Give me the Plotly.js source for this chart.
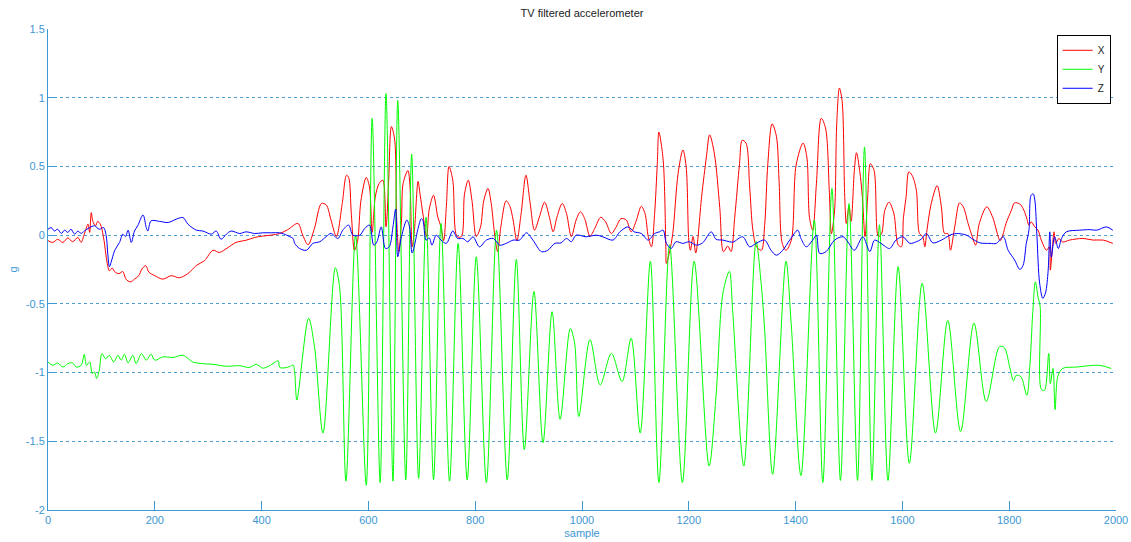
<!DOCTYPE html>
<html>
<head>
<meta charset="utf-8">
<script src="https://cdn.plot.ly/plotly-3.0.1.min.js"></script>
<style>
  html, body { margin: 0; padding: 0; background: #ffffff; }
  #chart { width: 1131px; height: 542px; }
</style>
</head>
<body>
<div id="chart"></div>
<script>
// Accelerometer axes after total-variation filtering (units: g)
const sampleX = [0,9,18,28,37,46,56,62,68,75,78,81,84,89,93,98,101,106,109,115,120,126,133,140,146,154,162,170,176,183,189,200,215,231,246,262,278,293,309,321,337,352,371,387,402,418,434,449,468,477,487,499,512,521,530,540,551,559,563,568,574,580,586,596,602,607,613,620,627,633,638,643,649,653,657,662,665,674,678,682,686,693,697,702,709,714,722,730,736,741,746,751,758,766,774,780,787,794,802,810,816,824,830,836,842,848,858,865,871,878,886,895,903,911,920,930,939,946,953,963,971,980,989,997,1005,1015,1024,1035,1044,1055,1064,1073,1083,1092,1102,1111,1118,1124,1130,1136,1141,1144,1152,1157,1158,1164,1170,1180,1189,1195,1200,1203,1208,1213,1224,1233,1239,1248,1258,1265,1273,1279,1286,1295,1300,1307,1314,1320,1327,1336,1342,1348,1356,1364,1369,1375,1382,1392,1401,1414,1421,1426,1432,1439,1448,1456,1463,1467,1473,1477,1482,1487,1492,1495,1500,1504,1510,1514,1520,1525,1530,1535,1540,1547,1555,1561,1567,1575,1584,1592,1598,1602,1607,1612,1618,1626,1632,1638,1642,1646,1654,1665,1673,1679,1685,1690,1698,1707,1714,1723,1731,1737,1744,1758,1769,1783,1788,1794,1804,1810,1820,1826,1832,1837,1841,1848,1854,1860,1870,1875,1877,1881,1884,1887,1893,1900,1913,1938,1957,1976,1994];
const accX = [-0.04,-0.053,-0.03,-0.053,-0.02,-0.048,-0.017,-0.053,0.007,0.08,0.02,0.164,0.10,0.068,0.10,0.08,0.043,-0.065,-0.16,-0.26,-0.24,-0.27,-0.28,-0.265,-0.32,-0.34,-0.32,-0.295,-0.246,-0.222,-0.27,-0.295,-0.32,-0.295,-0.31,-0.28,-0.22,-0.186,-0.11,-0.126,-0.09,-0.053,-0.037,-0.017,-0.007,0.0,0.012,0.04,0.085,0.0,-0.07,0.05,0.23,0.22,0.11,-0.01,0.23,0.436,0.42,0.157,-0.11,-0.036,0.25,0.42,0.35,0.02,0.28,0.375,0.40,0.06,0.40,0.79,0.70,0.11,-0.12,0.11,0.375,0.47,0.35,-0.085,0.024,0.39,0.29,0.157,-0.01,0.19,0.29,0.13,0.06,-0.04,0.21,0.50,0.40,-0.01,-0.01,0.30,0.40,0.25,-0.01,0.06,0.25,0.34,0.23,0.02,-0.12,0.06,0.25,0.21,0.11,-0.04,0.157,0.436,0.23,0.036,0.13,0.24,0.13,0.024,0.13,0.23,0.157,-0.01,0.11,0.17,0.12,-0.007,0.05,0.13,0.097,0.012,0.06,0.12,0.11,0.024,0.11,0.21,0.157,-0.01,-0.085,0.157,0.52,0.75,0.545,-0.085,-0.206,-0.12,0.012,0.45,0.62,0.50,-0.036,-0.11,-0.01,-0.13,0.28,0.57,0.73,0.59,0.20,-0.12,-0.08,-0.12,0.13,0.52,0.69,0.67,0.35,0.036,-0.085,-0.11,0.07,0.52,0.81,0.72,0.40,-0.06,-0.11,-0.036,0.51,0.67,0.57,0.13,0.036,0.376,0.85,0.78,0.33,0.01,0.18,0.81,1.07,0.98,0.28,0.085,0.21,0.10,0.47,0.60,0.47,0.28,-0.01,0.28,0.52,0.47,-0.01,0.01,0.18,0.24,0.157,-0.07,-0.085,0.13,0.28,0.46,0.436,0.33,0.012,-0.01,-0.085,0.036,0.23,0.36,0.206,0.012,0.012,-0.11,0.06,0.235,0.206,0.085,-0.012,-0.073,0.085,0.206,0.13,-0.04,0.0,0.085,0.18,0.235,0.226,0.194,0.133,0.073,0.097,0.06,0.036,-0.036,-0.11,-0.085,-0.255,-0.085,0.024,-0.06,-0.024,-0.05,-0.036,-0.024,-0.036,-0.036,-0.06];

const sampleY = [0,9,18,28,37,46,53,62,68,72,78,83,87,91,96,101,108,115,123,131,137,143,150,159,165,175,184,193,200,215,234,253,271,290,309,334,359,377,390,402,415,431,434,447,456,459,462,466,488,499,515,538,546,558,576,596,607,622,633,646,655,670,681,694,708,722,736,752,768,785,802,821,840,860,877,892,910,927,944,959,978,986,994,1015,1034,1055,1075,1092,1109,1128,1144,1164,1188,1210,1238,1251,1264,1276,1282,1303,1326,1335,1342,1357,1382,1392,1410,1435,1451,1468,1484,1500,1516,1529,1543,1557,1573,1592,1613,1637,1662,1685,1709,1734,1757,1782,1791,1801,1808,1813,1822,1833,1839,1844,1849,1854,1858,1860,1866,1874,1877,1882,1886,1891,1900,1926,1969,1991];
const accY = [-0.923,-0.947,-0.93,-0.96,-0.935,-0.93,-0.96,-0.947,-0.867,-0.947,-0.923,-1.007,-0.995,-1.043,-0.983,-0.862,-0.9,-0.874,-0.923,-0.874,-0.91,-0.867,-0.93,-0.874,-0.935,-0.862,-0.91,-0.867,-0.91,-0.886,-0.89,-0.874,-0.923,-0.935,-0.94,-0.954,-0.95,-0.963,-0.94,-0.968,-0.95,-0.915,-0.963,-0.963,-0.95,-0.944,-1.0,-1.2,-0.605,-0.81,-1.44,-0.237,-0.375,-1.79,0.0,-1.82,0.85,-1.80,1.03,-1.79,0.98,-1.78,0.59,-1.77,0.13,-1.78,0.085,-1.79,-0.06,-1.78,-0.157,-1.80,0.036,-1.78,-0.177,-1.56,-0.41,-1.51,-0.557,-1.34,-0.68,-0.78,-1.32,-0.76,-1.09,-0.86,-1.065,-0.75,-1.44,-0.19,-1.80,-0.07,-1.80,-0.19,-1.68,-1.17,-0.42,-0.263,-0.54,-1.68,-0.046,-0.33,-0.69,-1.74,-0.19,-0.66,-1.75,0.11,-1.80,0.34,-1.785,0.23,-1.785,0.64,-1.785,0.075,-1.785,-0.23,-1.66,-0.35,-1.44,-0.62,-1.43,-0.64,-1.21,-0.81,-0.82,-0.96,-1.06,-1.02,-1.03,-1.165,-0.93,-0.57,-0.34,-0.45,-0.52,-1.12,-1.13,-0.86,-1.08,-0.97,-1.27,-1.03,-0.97,-0.96,-0.947,-0.97];

const sampleZ = [0,6,12,18,25,31,37,43,50,56,62,68,78,87,96,104,109,112,115,118,125,134,140,145,150,156,162,168,178,184,187,193,209,225,240,253,262,278,290,306,315,324,334,343,359,371,387,402,418,434,447,452,459,462,471,484,496,509,521,530,543,552,563,571,584,593,602,610,616,624,632,639,646,651,655,662,672,677,682,693,699,702,708,714,719,727,736,746,758,767,777,786,796,808,821,834,846,858,871,883,896,908,924,936,949,961,971,980,989,1008,1027,1039,1058,1071,1086,1098,1111,1124,1136,1145,1152,1158,1167,1176,1189,1201,1214,1226,1242,1251,1264,1276,1283,1301,1314,1326,1342,1354,1364,1376,1389,1404,1410,1420,1432,1439,1445,1457,1473,1489,1498,1510,1526,1539,1548,1560,1576,1588,1601,1614,1626,1635,1645,1657,1673,1689,1701,1720,1732,1745,1764,1776,1789,1798,1810,1820,1826,1832,1837,1841,1845,1848,1852,1857,1863,1868,1873,1876,1879,1885,1892,1898,1907,1932,1951,1964,1982,1994];
const accZ = [0.043,0.055,0.03,0.043,0.012,0.036,0.02,0.043,0.007,0.03,0.012,0.03,0.055,0.068,0.043,0.055,-0.005,-0.14,-0.23,-0.2,-0.11,-0.053,0.007,-0.01,0.036,-0.053,0.03,0.068,0.147,0.055,0.03,0.104,0.1,0.092,0.116,0.128,0.08,0.036,0.03,0.007,0.03,-0.03,0.007,0.03,0.012,0.024,0.012,0.017,0.017,0.017,0.0,-0.01,-0.024,-0.06,-0.097,-0.11,-0.06,-0.048,-0.01,0.012,-0.024,0.036,0.073,0.0,0.0,0.048,0.073,-0.073,-0.048,0.06,-0.097,-0.085,0.06,0.19,-0.157,-0.01,0.11,0.06,-0.13,0.048,0.12,0.11,-0.036,-0.02,-0.073,0.0,-0.036,-0.06,0.03,-0.024,-0.024,-0.048,-0.012,-0.085,-0.036,-0.024,-0.073,-0.06,-0.036,-0.036,0.017,-0.036,-0.12,-0.11,-0.06,-0.056,-0.024,-0.048,0.0,-0.012,0.0,-0.012,-0.036,0.024,0.06,0.024,0.012,-0.036,0.012,0.024,0.036,-0.06,-0.097,-0.048,-0.06,-0.048,-0.073,-0.056,0.024,-0.03,-0.036,-0.048,-0.05,-0.012,-0.085,-0.06,-0.036,-0.11,-0.146,-0.11,-0.036,0.036,-0.024,-0.085,-0.036,0.0,-0.133,-0.12,-0.036,-0.012,-0.05,-0.11,-0.012,-0.12,-0.036,-0.06,-0.097,-0.036,-0.012,-0.06,-0.048,-0.03,0.012,-0.056,-0.036,0.0,0.012,0.0,-0.03,-0.056,-0.06,-0.06,-0.012,-0.11,-0.18,-0.25,-0.22,-0.06,0.036,0.29,0.30,0.255,-0.012,-0.35,-0.46,-0.42,-0.255,0.024,-0.16,-0.012,-0.097,-0.024,0.024,0.036,0.04,0.036,0.06,0.036];

// Axis ticks
const xTickVals = [0,200,400,600,800,1000,1200,1400,1600,1800,2000];
const yTickVals = [-2,-1.5,-1,-0.5,0,0.5,1,1.5];
const yTickText = ['-2','-1.5','-1','-0.5','0','0.5','1','1.5'];

const axisBlue = '#3d97d3';
const font = 'Liberation Sans, Arial, sans-serif';

function series(name, xs, ys, color) {
  return {
    type: 'scatter', mode: 'lines', name: name,
    x: xs, y: ys,
    line: { color: color, width: 1, shape: 'spline', smoothing: 0.9 }
  };
}

const traces = [
  series('X', sampleX, accX, '#ff0000'),
  series('Y', sampleY, accY, '#00ff00'),
  series('Z', sampleZ, accZ, '#0000ff')
];

const layout = {
  width: 1131, height: 542,
  margin: { l: 48, r: 15, t: 29, b: 32 },
  paper_bgcolor: '#ffffff', plot_bgcolor: '#ffffff',
  font: { family: font, size: 11, color: axisBlue },
  title: { text: 'TV filtered accelerometer', font: { family: font, size: 11, color: '#222222' },
           x: 0.5, xref: 'paper', y: 0.975, yanchor: 'middle' },
  showlegend: true,
  legend: { x: 0.995, xanchor: 'right', y: 0.988, yanchor: 'top',
            bgcolor: '#ffffff', bordercolor: '#000000', borderwidth: 1,
            font: { family: font, size: 10, color: '#222222' },
            tracegroupgap: 0, itemwidth: 30 },
  xaxis: {
    range: [0, 2000], tickvals: xTickVals, showgrid: false, zeroline: false,
    showline: true, linecolor: axisBlue, linewidth: 1,
    ticks: 'inside', ticklen: 9, tickcolor: axisBlue,
    tickfont: { family: font, size: 11, color: axisBlue },
    title: { text: 'sample', font: { family: font, size: 11, color: axisBlue }, standoff: 4 }
  },
  yaxis: {
    range: [-2, 1.5], tickvals: yTickVals, ticktext: yTickText,
    showgrid: true, gridcolor: '#4f9ccf', griddash: 'dot', gridwidth: 1,
    zeroline: false, showline: true, linecolor: axisBlue, linewidth: 1,
    ticks: 'inside', ticklen: 9, tickcolor: axisBlue,
    tickfont: { family: font, size: 11, color: axisBlue },
    title: { text: 'g', font: { family: font, size: 11, color: axisBlue }, standoff: 5 }
  }
};

Plotly.newPlot('chart', traces, layout, { displayModeBar: false, staticPlot: true });
</script>
</body>
</html>
